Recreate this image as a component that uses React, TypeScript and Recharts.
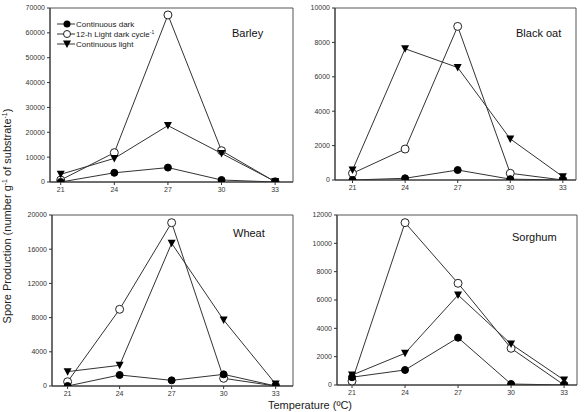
import React from 'react';
import { LineChart, Line, XAxis, YAxis, ReferenceArea } from 'recharts';

const temps = [21, 24, 27, 30, 33];

const barleyDark = [0, 3700, 5800, 800, 0];
const barleyCycle = [800, 11800, 67200, 12600, 100];
const barleyLight = [3100, 9500, 22700, 11500, 200];

const oatDark = [0, 100, 580, 50, 0];
const oatCycle = [390, 1800, 8930, 390, 0];
const oatLight = [580, 7630, 6540, 2390, 190];

const wheatDark = [0, 1290, 660, 1360, 0];
const wheatCycle = [500, 8970, 19100, 900, 0];
const wheatLight = [1680, 2420, 16690, 7720, 230];

const sorghumDark = [550, 1060, 3340, 70, 0];
const sorghumCycle = [280, 11460, 7180, 2590, 0];
const sorghumLight = [700, 2240, 6350, 2890, 350];

const seriesNames = ['Continuous dark', '12-h Light dark cycle', 'Continuous light'];

const build = (dark: number[], cycle: number[], light: number[]) =>
  temps.map((t, i) => ({ t, dark: dark[i], cycle: cycle[i], light: light[i] }));

const Triangle = (props: any) => {
  const { cx, cy } = props;
  if (cx == null || cy == null) return null;
  return <path d={`M${cx - 4},${cy - 3.5} L${cx + 4},${cy - 3.5} L${cx},${cy + 4} Z`} fill="#000" />;
};

const tickStyle = { fontSize: 7, fill: '#333', fontFamily: 'Arial, Liberation Sans, sans-serif' };

type PanelProps = {
  data: any[];
  box: { x: number; y: number; w: number; h: number };
  xDomain: [number, number];
  yMax: number;
  yTicks: number[];
  title: string;
  titleX: number;
  titleY: number;
};

const Panel = ({ data, box, xDomain, yMax, yTicks, title, titleX, titleY }: PanelProps) => {
  const yW = 45;
  const xH = 20;
  return (
    <div style={{ position: 'absolute', left: box.x - yW, top: box.y - 5 }}>
      <LineChart
        width={box.w + yW + 5}
        height={box.h + 5 + xH}
        data={data}
        margin={{ top: 5, right: 5, bottom: 0, left: 0 }}
      >
        <XAxis
          dataKey="t"
          type="number"
          domain={xDomain}
          ticks={temps}
          allowDataOverflow
          height={xH}
          tickSize={3}
          tick={tickStyle}
          stroke="#333"
        />
        <YAxis
          type="number"
          domain={[0, yMax]}
          ticks={yTicks}
          allowDataOverflow
          width={yW}
          tickSize={3}
          tick={tickStyle}
          stroke="#333"
        />
        <ReferenceArea x1={xDomain[0]} x2={xDomain[1]} y1={0} y2={yMax} fill="none" stroke="#555" strokeWidth={1} ifOverflow="visible" />
        <Line dataKey="cycle" stroke="#333" strokeWidth={1} isAnimationActive={false}
          dot={{ r: 4, fill: '#fff', stroke: '#222', strokeWidth: 1 }} />
        <Line dataKey="light" stroke="#333" strokeWidth={1} isAnimationActive={false} dot={<Triangle />} />
        <Line dataKey="dark" stroke="#333" strokeWidth={1} isAnimationActive={false}
          dot={{ r: 3.5, fill: '#000', stroke: '#000', strokeWidth: 1 }} />
        <text x={titleX - (box.x - yW)} y={titleY - (box.y - 5)} fontSize={11} fontFamily="Arial, Liberation Sans, sans-serif" fill="#111">
          {title}
        </text>
      </LineChart>
    </div>
  );
};

const Legend = () => {
  const rows = [24, 34, 44];
  return (
    <svg width={120} height={50} style={{ position: 'absolute', left: 50, top: 0 }}>
      {rows.map((y, i) => (
        <g key={i}>
          <line x1={7} x2={25} y1={y} y2={y} stroke="#333" strokeWidth={1} />
          {i === 0 && <circle cx={17} cy={y} r={3.5} fill="#000" />}
          {i === 1 && <circle cx={17} cy={y} r={3.5} fill="#fff" stroke="#222" />}
          {i === 2 && <path d={`M13,${y - 3.5} L21,${y - 3.5} L17,${y + 4} Z`} fill="#000" />}
          <text x={26} y={y + 3} fontSize={8} fill="#222" fontFamily="Arial, Liberation Sans, sans-serif">
            {seriesNames[i]}
            {i === 1 && <tspan dy={-3} fontSize={5}>-1</tspan>}
          </text>
        </g>
      ))}
    </svg>
  );
};

const App = () => {
  return (
    <div style={{ position: 'absolute', left: 0, top: 0, width: 585, height: 412, overflow: 'hidden', background: '#fff' }}>
      <Panel data={build(barleyDark, barleyCycle, barleyLight)} box={{ x: 50, y: 8, w: 243, h: 174 }}
        xDomain={[20.4, 34]} yMax={70000} yTicks={[0, 10000, 20000, 30000, 40000, 50000, 60000, 70000]}
        title="Barley" titleX={232} titleY={37} />
      <Panel data={build(oatDark, oatCycle, oatLight)} box={{ x: 335, y: 8, w: 241, h: 172 }}
        xDomain={[20, 33.75]} yMax={10000} yTicks={[0, 2000, 4000, 6000, 8000, 10000]}
        title="Black oat" titleX={516} titleY={37} />
      <Panel data={build(wheatDark, wheatCycle, wheatLight)} box={{ x: 52, y: 215, w: 241, h: 171 }}
        xDomain={[20.1, 34]} yMax={20000} yTicks={[0, 4000, 8000, 12000, 16000, 20000]}
        title="Wheat" titleX={233} titleY={237} />
      <Panel data={build(sorghumDark, sorghumCycle, sorghumLight)} box={{ x: 337, y: 215, w: 240, h: 170 }}
        xDomain={[20.15, 33.73]} yMax={12000} yTicks={[0, 2000, 4000, 6000, 8000, 10000, 12000]}
        title="Sorghum" titleX={512} titleY={241} />
      <Legend />
      <svg width={585} height={412} style={{ position: 'absolute', left: 0, top: 0, pointerEvents: 'none' }}>
        <text x={11} y={216} transform="rotate(-90 11 216)" textAnchor="middle" fontSize={11} fill="#222"
          fontFamily="Arial, Liberation Sans, sans-serif">
          Spore Production (number g<tspan dy={-4} fontSize={7}>-1</tspan><tspan dy={4}> of substrate</tspan><tspan dy={-4} fontSize={7}>-1</tspan><tspan dy={4}>)</tspan>
        </text>
        <text x={310} y={409} textAnchor="middle" fontSize={11} fill="#222" fontFamily="Arial, Liberation Sans, sans-serif">
          Temperature (ºC)
        </text>
      </svg>
    </div>
  );
};

export default App;
